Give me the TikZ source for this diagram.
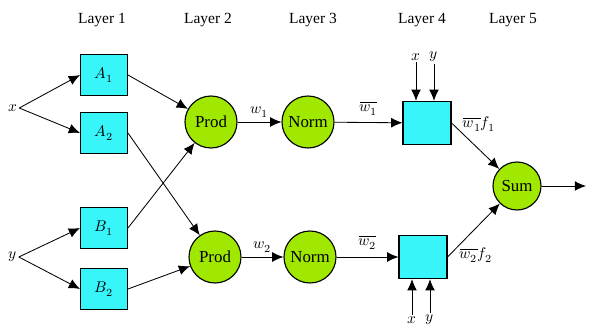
\documentclass[tikz,border=0pt]{standalone}
\usepackage{fontspec}
\setmainfont{Liberation Serif}
\usepackage{unicode-math}
\setmathfont{Latin Modern Math}
\usetikzlibrary{arrows.meta}
\definecolor{boxcyan}{RGB}{56,245,250}
\definecolor{ballgreen}{RGB}{160,232,0}
\tikzset{
  lbox/.style={rectangle,draw,thick,fill=boxcyan,minimum width=1.17cm,minimum height=1.02cm,inner sep=0pt},
  qbox/.style={rectangle,draw,thick,fill=boxcyan,minimum width=1.2cm,minimum height=1.08cm,inner sep=0pt},
  ball/.style={circle,draw,thick,fill=ballgreen,minimum size=1.3cm,inner sep=0pt,font=\rmfamily\fontsize{12}{14}\selectfont},
  lay/.style={font=\rmfamily\fontsize{11}{13}\selectfont},
  sig/.style={font=\rmfamily\fontsize{11}{13}\selectfont,inner sep=1pt}
}
\begin{document}
\begin{tikzpicture}[x=0.025cm, y=-0.025cm, >={Latex[length=8pt,width=7pt]}, semithick, font=\rmfamily\fontsize{11}{13}\selectfont]
\useasboundingbox (0,0) rectangle (599,328);
% layer titles
\node[lay] (t1) at (102,20) {Layer 1};
\node[lay] (t2) at (208,20) {Layer 2};
\node[lay] (t3) at (313,20) {Layer 3};
\node[lay] (t4) at (422,20) {Layer 4};
\node[lay] (t5) at (513,20) {Layer 5};
% inputs
\node[sig] (x) at (13,108) {$x$};
\node[sig] (y) at (13,257) {$y$};
% layer 1
\node[lbox] (a1) at (104,75) {$A_1$};
\node[lbox] (a2) at (104,133) {$A_2$};
\node[lbox] (b1) at (104,228) {$B_1$};
\node[lbox] (b2) at (104,289) {$B_2$};
% layer 2 and 3
\node[ball] (p1) at (211,122) {Prod};
\node[ball] (p2) at (215,257) {Prod};
\node[ball] (n1) at (308,122) {Norm};
\node[ball] (n2) at (310,257) {Norm};
% layer 4
\node[qbox] (q1) at (427,123) {};
\node[qbox] (q2) at (423,257) {};
\node[sig] (qx1) at (416,57) {$x$};
\node[sig] (qy1) at (434,57) {$y$};
\node[sig] (qx2) at (412,320) {$x$};
\node[sig] (qy2) at (430,320) {$y$};
% layer 5
\node[ball,minimum size=1.2cm] (s) at (517,186) {Sum};
\coordinate (out) at (586,186);
% edges
\draw (x.east) edge[->] (a1.west);
\draw (x.east) edge[->] (a2.west);
\draw (y.east) edge[->] (b1.west);
\draw (y.east) edge[->] (b2.west);
\draw (a1.east) edge[->] (p1);
\draw (a2.east) edge[->] (p2);
\draw (b1.east) edge[->] (p1);
\draw (b2.east) edge[->] (p2);
\draw (p1) edge[->] node[sig,above=2pt]{$w_1$} (n1);
\draw (p2) edge[->] node[sig,above=2pt]{$w_2$} (n2);
\draw (n1) edge[->] node[sig,above=4pt]{$\overline{w_1}$} (q1);
\draw (n2) edge[->] node[sig,above=4pt]{$\overline{w_2}$} (q2);
\draw[->] (qx1.south) -- (qx1.south |- q1.north);
\draw[->] (qy1.south) -- (qy1.south |- q1.north);
\draw[->] (qx2.north) -- (qx2.north |- q2.south);
\draw[->] (qy2.north) -- (qy2.north |- q2.south);
\draw (q1.east) edge[->] node[sig,anchor=west,pos=0.2,yshift=0.2cm]{$\overline{w_1}f_1$} (s);
\draw (q2.east) edge[->] node[sig,anchor=west,pos=0.2,yshift=-0.22cm]{$\overline{w_2}f_2$} (s);
\draw[->] (s) -- (out);
\end{tikzpicture}
\end{document}
